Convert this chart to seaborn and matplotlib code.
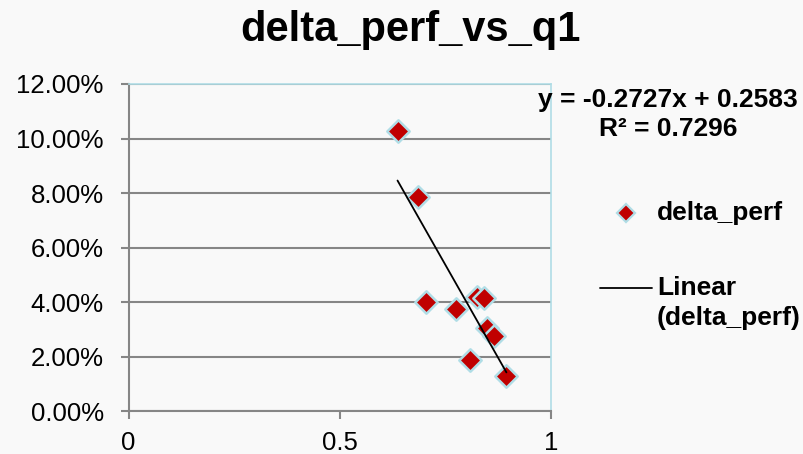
import numpy as np
import pandas as pd
import matplotlib
matplotlib.use("Agg")
import matplotlib.pyplot as plt
from matplotlib.lines import Line2D
from matplotlib.ticker import PercentFormatter
import seaborn as sns

# ---- data ----
q1 = [0.637, 0.685, 0.704, 0.775, 0.826, 0.843, 0.848, 0.865, 0.809, 0.895]
delta_perf = [0.1029, 0.0787, 0.0400, 0.0375, 0.0418, 0.0415, 0.0304, 0.0276, 0.0189, 0.0129]
trend_slope = -0.2727
trend_intercept = 0.2583
r_squared = 0.7296
title = "delta_perf_vs_q1"
series_name = "delta_perf"
trend_name = "Linear\n(delta_perf)"
x_ticks = [0, 0.5, 1]
y_ticks = [0.00, 0.02, 0.04, 0.06, 0.08, 0.10, 0.12]

df = pd.DataFrame({"q1": q1, "delta_perf": delta_perf})

sns.set_theme(style="white")
plt.rcParams["font.family"] = ["Liberation Sans", "DejaVu Sans"]
plt.rcParams["text.color"] = "black"
plt.rcParams["xtick.color"] = "black"
plt.rcParams["ytick.color"] = "black"

BG = "#f9f9f9"
GRID = "#868686"
BLUE_EDGE = "#b0dde6"
RED = "#c00000"

fig = plt.figure(figsize=(8.04, 4.54), dpi=100, facecolor=BG)
ax = fig.add_axes([0.160, 0.0943, 0.525, 0.7207])
ax.set_facecolor(BG)

sns.scatterplot(data=df, x="q1", y="delta_perf", ax=ax, marker="D", s=130,
                color=RED, edgecolor=BLUE_EDGE, linewidth=1.8, zorder=3, legend=False)

xs = np.array([min(q1), max(q1)])
ax.plot(xs, trend_slope * xs + trend_intercept, color="black", lw=1.3, zorder=4)

ax.set_xlim(0, 1)
ax.set_ylim(0, 0.12)
ax.set_xticks(x_ticks)
ax.set_xticklabels(["0", "0.5", "1"])
ax.set_yticks(y_ticks)
ax.yaxis.set_major_formatter(PercentFormatter(1.0, decimals=2))
ax.set_xlabel("")
ax.set_ylabel("")

ax.yaxis.grid(True, color=GRID, lw=1.5)
ax.set_axisbelow(True)
for side in ("left", "bottom"):
    ax.spines[side].set_color(GRID)
    ax.spines[side].set_linewidth(1.5)
for side in ("top", "right"):
    ax.spines[side].set_visible(True)
    ax.spines[side].set_color(BLUE_EDGE)
    ax.spines[side].set_linewidth(1.2)

ax.tick_params(axis="y", direction="out", length=5.5, width=1.5, color=GRID,
               labelsize=18.5, pad=12.5, left=True, labelcolor="black")
ax.tick_params(axis="x", direction="out", length=5.5, width=1.5, color=GRID,
               labelsize=18.5, pad=9, bottom=True, labelcolor="black")

fig.text(0.511, 1 - 41 / 454, title, ha="center", va="baseline", fontsize=30,
         fontweight="bold", color="black")

# trendline equation
fig.text(0.831, 1 - 100 / 454, f"y = {trend_slope:.4f}x + {trend_intercept:.4f}",
         ha="center", va="center", fontsize=19, fontweight="bold", color="black")
fig.text(0.831, 1 - 129 / 454, f"R² = {r_squared:.4f}",
         ha="center", va="center", fontsize=19, fontweight="bold", color="black")

# legend
fig.add_artist(Line2D([626 / 804], [1 - 213 / 454], marker="D", markersize=9,
                      markerfacecolor=RED, markeredgecolor=BLUE_EDGE, markeredgewidth=1.6,
                      linestyle="none", transform=fig.transFigure))
fig.text(657 / 804, 1 - 213 / 454, series_name, ha="left", va="center",
         fontsize=19, fontweight="bold", color="black")
fig.add_artist(Line2D([600 / 804, 652 / 804], [1 - 288 / 454, 1 - 288 / 454],
                      color="black", lw=1.3, transform=fig.transFigure))
fig.text(657 / 804, 1 - 288 / 454, trend_name.split("\n")[0], ha="left", va="center",
         fontsize=19, fontweight="bold", color="black")
fig.text(657 / 804, 1 - 318 / 454, trend_name.split("\n")[1], ha="left", va="center",
         fontsize=19, fontweight="bold", color="black")

fig.savefig("out.png", dpi=100, facecolor=BG)
